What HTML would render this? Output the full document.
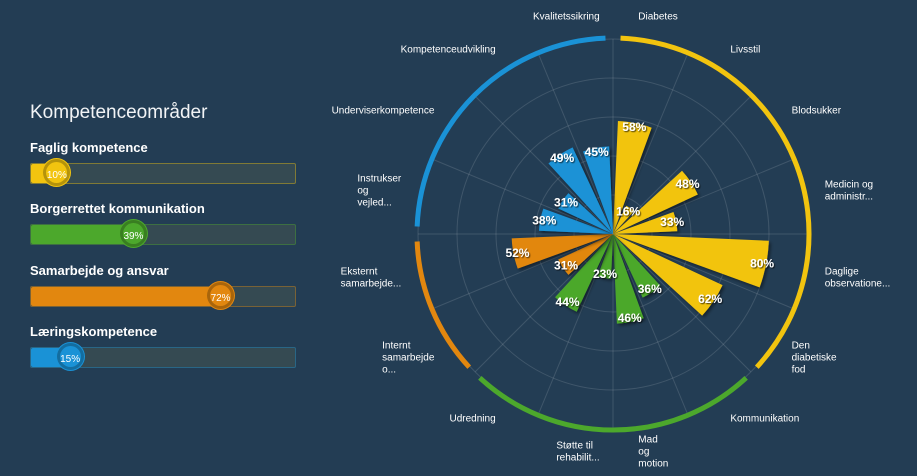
<!DOCTYPE html>
<html><head><meta charset="utf-8">
<style>
body{margin:0;width:917px;height:476px;background:#233d54;font-family:"Liberation Sans",sans-serif;overflow:hidden;position:relative;color:#fff}
.title{position:absolute;left:30px;top:102px;font-size:19px;font-weight:300;color:#f2f4f6}
.lbl{position:absolute;left:30px;font-size:13px;font-weight:bold;color:#fff}
.track{position:absolute;left:30px;width:266px;height:21px;border-radius:2px;box-sizing:border-box}
.fill{position:absolute;left:0;top:0;height:100%;border-radius:2px}
.knob{position:absolute;top:-5px;width:27px;height:27px;border-radius:50%;box-sizing:border-box;font-size:10px;line-height:27px;text-align:center;color:#fff;margin-left:-14px}
</style></head><body>
<div class="title">Kompetenceområder</div>
<div id="left"></div>
<svg id="chart" width="917" height="476" style="position:absolute;left:0;top:0">
<defs><filter id="sh" x="-20%" y="-20%" width="140%" height="140%"><feDropShadow dx="2" dy="2" stdDeviation="1.5" flood-color="#000" flood-opacity="0.45"/></filter>
<filter id="tsh"><feDropShadow dx="1" dy="1" stdDeviation="0.6" flood-color="#000" flood-opacity="0.7"/></filter></defs>
</svg>
<script>
const groupNames=["Faglig kompetence","Borgerrettet kommunikation","Samarbejde og ansvar","Læringskompetence"];
const groupValues=[10,39,72,15];
const groupColors=["#f2c40f","#4ca82c","#e2870f","#1a92d6"];
const categories=["Diabetes","Livsstil","Blodsukker","Medicin og|administr...","Daglige|observatione...","Den|diabetiske|fod","Kommunikation","Mad|og|motion","Støtte til|rehabilit...","Udredning","Internt|samarbejde|o...","Eksternt|samarbejde...","Instrukser|og|vejled...","Underviserkompetence","Kompetenceudvikling","Kvalitetssikring"];
const values=[58,16,48,33,80,62,36,46,23,44,31,52,38,31,49,45];
const catGroup=[0,0,0,0,0,0,1,1,1,1,2,2,3,3,3,3];

// left panel
const left=document.getElementById('left');
groupNames.forEach((n,i)=>{
  const top=140+i*61.3;
  const l=document.createElement('div');l.className='lbl';l.style.top=top+'px';l.textContent=n;
  
  
  left.appendChild(l);
  const t=document.createElement('div');t.className='track';t.style.top=(top+23)+'px';
  t.style.background='rgba(70,85,80,0.55)';t.style.border='1px solid '+groupColors[i]+'66';
  
  
  const f=document.createElement('div');f.className='fill';f.style.width=groupValues[i]+'%';f.style.background=groupColors[i];
  
  
  t.appendChild(f);
  const k=document.createElement('div');k.className='knob';k.style.left=groupValues[i]+'%';
  k.style.background=groupColors[i];k.style.border='3px solid rgba(0,0,0,0.25)';k.style.boxShadow='0 0 0 1px '+groupColors[i];
  k.textContent=groupValues[i]+'%';
  
  
  t.appendChild(k);
  left.appendChild(t);
});

// polar chart
const svg=document.getElementById('chart');const NS='http://www.w3.org/2000/svg';
const cx=613,cy=234,R=195,N=categories.length,step=360/N;
function pt(a,r){const t=a*Math.PI/180;return [cx+r*Math.sin(t),cy-r*Math.cos(t)];}
function rScale(v){return v/100*R;}
function mk(tag,attrs){const e=document.createElementNS(NS,tag);for(const k in attrs)e.setAttribute(k,attrs[k]);svg.appendChild(e);return e;}
for(let g=1;g<=5;g++){const c=mk('circle',{cx:cx,cy:cy,r:R*g/5,fill:'none',stroke:'rgba(255,255,255,0.13)','stroke-width':1});
  
  }
for(let i=0;i<N;i++){const p=pt(i*step,R);const l=mk('line',{x1:cx,y1:cy,x2:p[0],y2:p[1],stroke:'rgba(255,255,255,0.13)','stroke-width':1});
  
  }
function arc(a0,a1,r){const p0=pt(a0,r),p1=pt(a1,r);return `M${p0[0]},${p0[1]} A${r},${r} 0 ${a1-a0>180?1:0} 1 ${p1[0]},${p1[1]}`;}
groupColors.forEach((col,g)=>{
  const idx=catGroup.map((x,i)=>x===g?i:-1).filter(i=>i>=0);
  const a0=idx[0]*step+2.2,a1=(idx[idx.length-1]+1)*step-2.2;
  const p=mk('path',{d:arc(a0,a1,196),fill:'none',stroke:col,'stroke-width':5});
  
  
});
values.forEach((v,i)=>{
  const a0=i*step+2.5,a1=(i+1)*step-2.5,r=rScale(v);
  const p0=pt(a0,r),p1=pt(a1,r);
  const b=mk('path',{d:`M${cx},${cy} L${p0[0]},${p0[1]} A${r},${r} 0 0 1 ${p1[0]},${p1[1]} Z`,fill:groupColors[catGroup[i]],filter:'url(#sh)'});
  
  
});
values.forEach((v,i)=>{
  const am=(i+0.5)*step,lp=pt(am,Math.max(rScale(v)-4,18));
  const t=mk('text',{x:lp[0],y:lp[1]+4,'text-anchor':'middle','font-size':12,'font-weight':'bold',fill:'#fff',filter:'url(#tsh)'});
  t.textContent=v+'%';
  
  
});
categories.forEach((c,i)=>{
  const am=(i+0.5)*step,s=Math.sin(am*Math.PI/180);
  const p=pt(am,222);
  const right=s>0, nearV=Math.abs(s)<0.3;
  let x=right?(nearV?p[0]-18:p[0]-6):(nearV?p[0]+30:p[0]+6);
  const lines=c.split('|');
  const y0=p[1]-(lines.length-1)*6+3;
  const t=mk('text',{x:x,y:y0,'text-anchor':'start','font-size':10,fill:'#fff'});
  const spans=[];
  lines.forEach((ln,j)=>{const ts=document.createElementNS(NS,'tspan');ts.setAttribute('x',x);ts.setAttribute('y',y0+j*12);ts.textContent=ln;t.appendChild(ts);spans.push(ts);});
  if(!right){
    let w=0;spans.forEach(ts=>{w=Math.max(w,ts.getComputedTextLength());});
    spans.forEach(ts=>ts.setAttribute('x',x-w));
  }
  
  
});
</script>
</body></html>
